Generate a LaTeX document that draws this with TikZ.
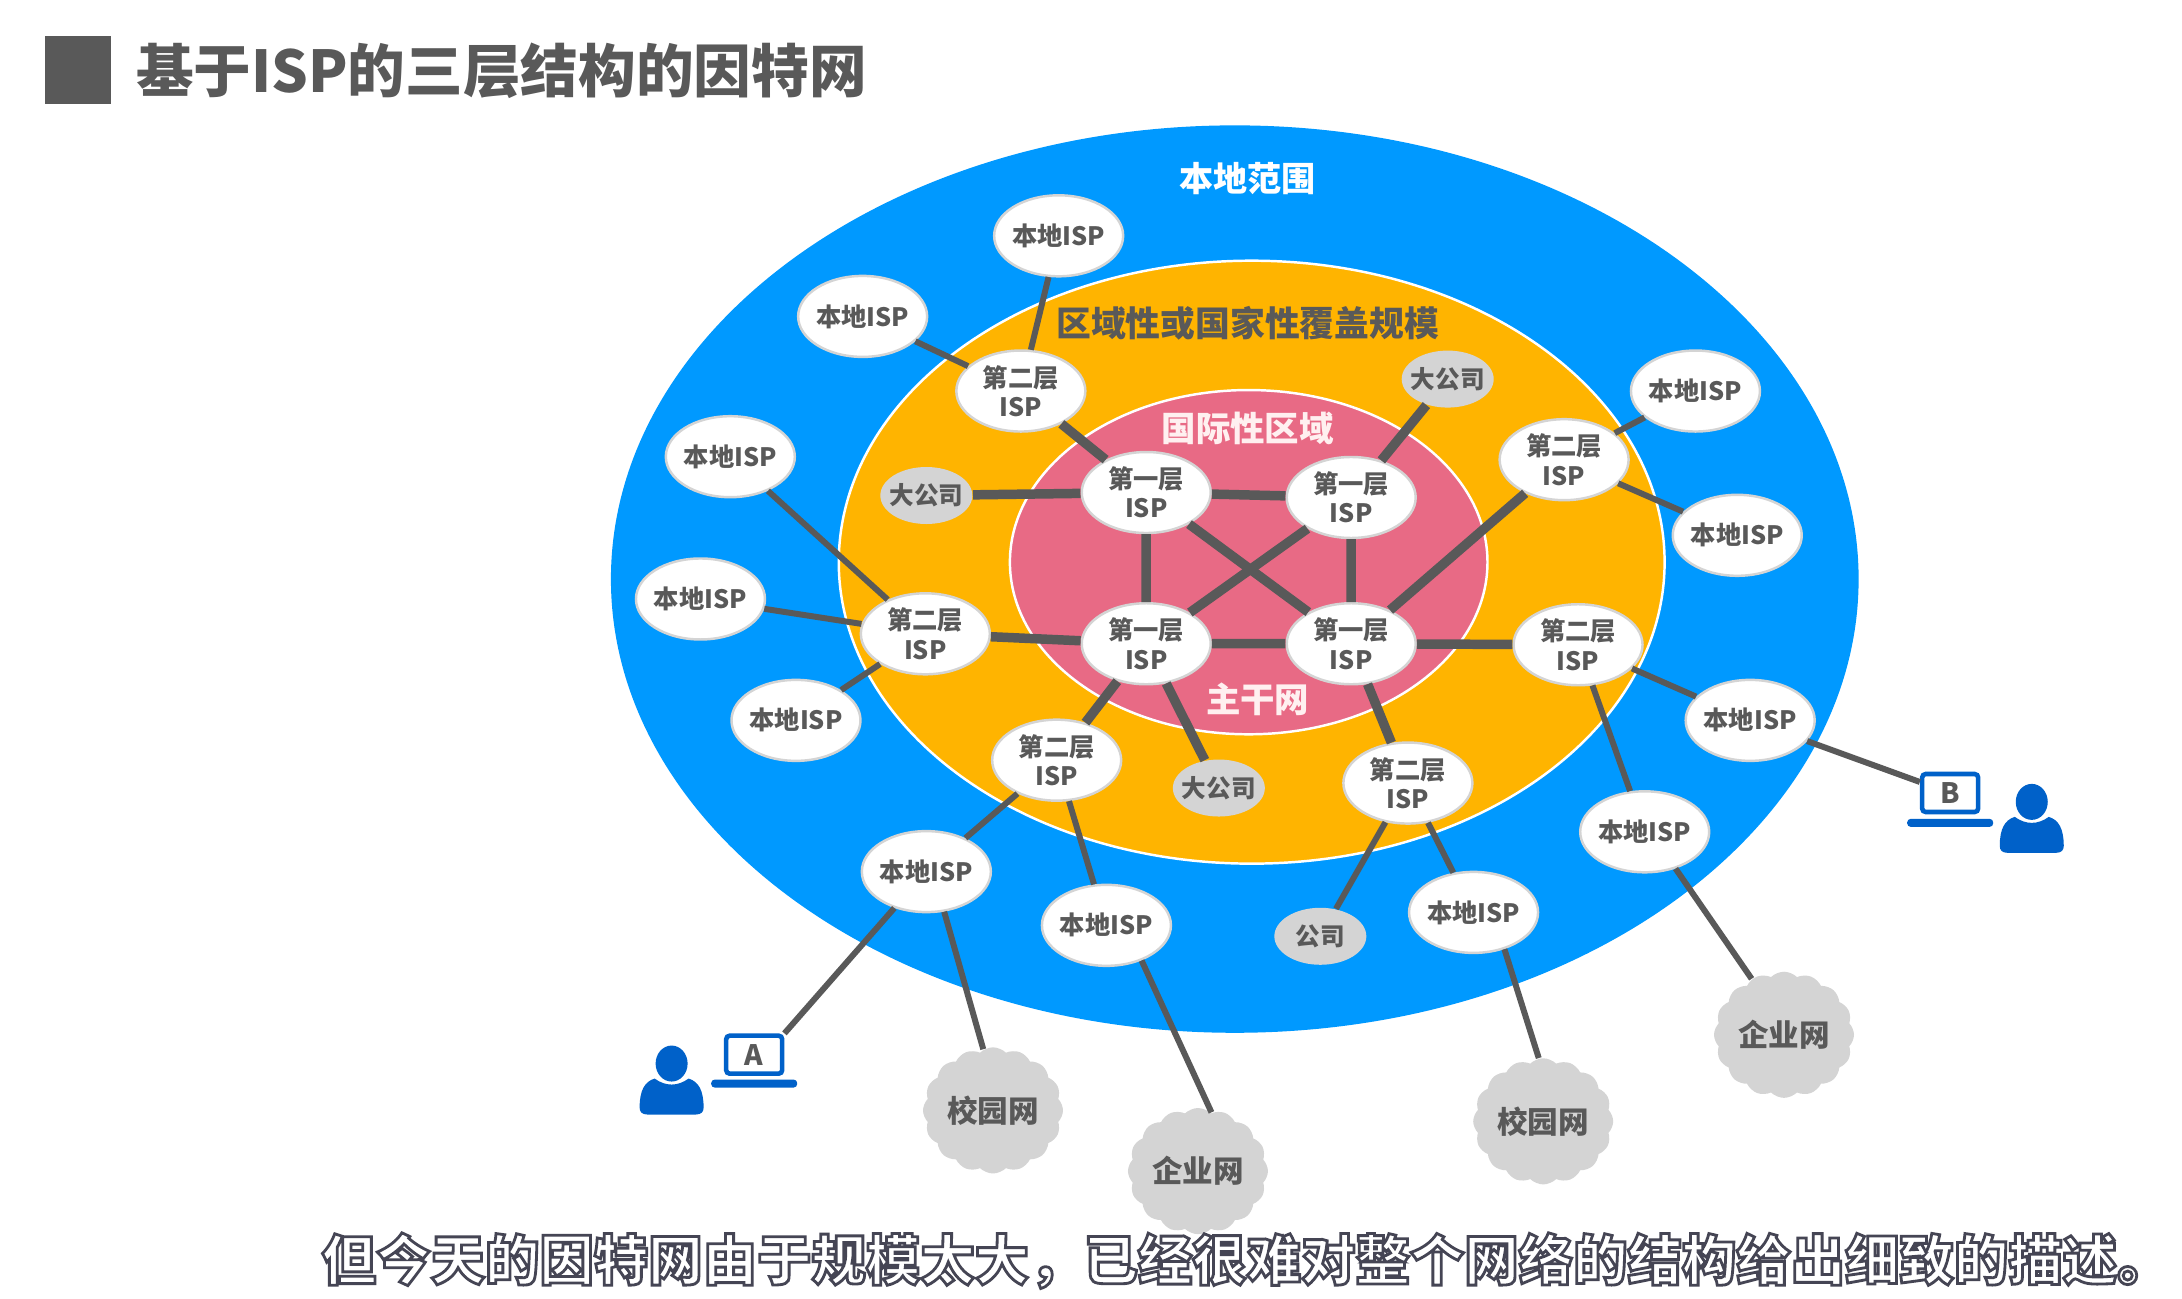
\documentclass[tikz,border=0pt]{standalone}
\usepackage{fontspec}
\setmainfont{Noto Sans CJK SC}
\usetikzlibrary{shapes.geometric,shapes.symbols}
\definecolor{outerblue}{HTML}{0099FF}
\definecolor{midorange}{HTML}{FFB400}
\definecolor{innerred}{HTML}{E86A85}
\definecolor{linkgray}{HTML}{595959}
\definecolor{corpgray}{HTML}{D4D4D4}
\definecolor{iconblue}{HTML}{0061C9}
\definecolor{rimgray}{HTML}{D4D4D4}
\newcommand{\outlinetext}[1]{\special{pdf:code 2 Tr 0.8 w 0.27 0.27 0.33 RG}#1}
\tikzset{
  ispnode/.style={ellipse,draw=rimgray,line width=.7pt,fill=white,text=linkgray,inner sep=0pt,inner xsep=-1pt,
    minimum width=1.29cm,minimum height=.81cm,align=center,font=\fontsize{7.2}{8.3}\selectfont\bfseries},
  corpnode/.style={ellipse,fill=corpgray,text=linkgray,inner sep=0pt,inner xsep=-1.6pt,
    minimum width=.92cm,minimum height=.57cm,font=\fontsize{7}{8}\selectfont\bfseries},
  netcloud/.style={cloud,cloud puffs=16,cloud puff arc=90,aspect=1.1,fill=corpgray,text=linkgray,inner sep=0pt,
    minimum width=1.4cm,minimum height=1.26cm,font=\fontsize{8.7}{9}\selectfont\bfseries},
  thicklink/.style={linkgray,line width=2.7pt},
  thinlink/.style={linkgray,line width=1.7pt},
  scrbox/.style={rectangle,rounded corners=1pt,draw=iconblue,line width=1.3pt,fill=white,text=linkgray,inner sep=0pt,
    minimum width=.56cm,minimum height=.38cm,font=\fontsize{8}{9}\selectfont\bfseries},
  personicon/.pic={
    \fill[iconblue] (-.24,.34) -- (.24,.34) .. controls (.3,.34) and (.32,.31) .. (.32,.27)
      .. controls (.32,.10) and (.27,.01) .. (.17,-.02) .. controls (.06,.06) and (-.06,.06) .. (-.17,-.02)
      .. controls (-.27,.01) and (-.32,.10) .. (-.32,.27) .. controls (-.32,.31) and (-.3,.34) .. (-.24,.34) -- cycle;
    \fill[iconblue] (0,-.17) ellipse (.16 and .18);
  },
  lapbase/.pic={
    \fill[iconblue,rounded corners=1pt] (-.43,0) rectangle (.43,.08);
  }
}
\begin{document}
\begin{tikzpicture}[y=-1cm,scale=.995]
\useasboundingbox (0,0) rectangle (21.93,13.055);
\fill[white] (0,0) rectangle (21.93,13.055);
% heading
\fill[linkgray] (.45,.36) rectangle (1.12,1.05);
\draw (1.36,.71) node[anchor=west,text=linkgray,inner sep=0pt,font=\fontsize{16.4}{17}\selectfont\bfseries] (heading) {基于ISP的三层结构的因特网};
% three regions
\fill[outerblue] (12.41,5.82) ellipse (6.27 and 4.56);
\draw[white,line width=.7pt,fill=midorange] (12.58,5.65) ellipse (4.15 and 3.03);
\draw[white,line width=.7pt,fill=innerred] (12.55,5.65) ellipse (2.40 and 1.73);
\draw (12.54,1.79) node[text=white,font=\fontsize{9.7}{10}\selectfont\bfseries] (regionlocal) {本地范围};
\draw (12.54,3.25) node[text=linkgray,font=\fontsize{9.9}{10}\selectfont\bfseries] (regionnation) {区域性或国家性覆盖规模};
\draw (12.54,4.31) node[text=red!6,font=\fontsize{9.8}{10}\selectfont\bfseries] (regionworld) {国际性区域};
\draw (12.64,7.03) node[text=red!6,font=\fontsize{9.8}{10}\selectfont\bfseries] (backbone) {主干网};
% tier one
\draw (11.52,4.95) node[ispnode] (tia) {第一层\\ISP};
\draw (13.58,5.00) node[ispnode] (tib) {第一层\\ISP};
\draw (11.52,6.47) node[ispnode] (tic) {第一层\\ISP};
\draw (13.58,6.47) node[ispnode] (tid) {第一层\\ISP};
% tier two
\draw (10.26,3.93) node[ispnode] (tiia) {第二层\\ISP};
\draw (15.72,4.62) node[ispnode] (tiib) {第二层\\ISP};
\draw (9.30,6.37) node[ispnode] (tiic) {第二层\\ISP};
\draw (15.86,6.48) node[ispnode] (tiid) {第二层\\ISP};
\draw (10.62,7.64) node[ispnode] (tiie) {第二层\\ISP};
\draw (14.15,7.87) node[ispnode] (tiif) {第二层\\ISP};
% local
\draw (10.64,2.37) node[ispnode] (loca) {本地ISP};
\draw (8.67,3.18) node[ispnode] (locb) {本地ISP};
\draw (7.34,4.59) node[ispnode] (locc) {本地ISP};
\draw (7.04,6.02) node[ispnode] (locd) {本地ISP};
\draw (8.00,7.24) node[ispnode] (loce) {本地ISP};
\draw (17.04,3.93) node[ispnode] (locf) {本地ISP};
\draw (17.46,5.38) node[ispnode] (locg) {本地ISP};
\draw (17.59,7.24) node[ispnode] (loch) {本地ISP};
\draw (16.53,8.36) node[ispnode] (loci) {本地ISP};
\draw (9.31,8.76) node[ispnode] (locj) {本地ISP};
\draw (11.12,9.30) node[ispnode] (lock) {本地ISP};
\draw (14.81,9.17) node[ispnode] (locl) {本地ISP};
% companies
\draw (9.31,4.98) node[corpnode] (corpa) {大公司};
\draw (14.55,3.81) node[corpnode] (corpb) {大公司};
\draw (12.25,7.92) node[corpnode] (corpc) {大公司};
\draw (13.27,9.41) node[corpnode] (corpd) {公司};
% clouds
\draw (9.98,11.16) node[netcloud] (campa) {校园网};
\draw (12.04,11.77) node[netcloud] (enta) {企业网};
\draw (15.51,11.27) node[netcloud] (campb) {校园网};
\draw (17.93,10.40) node[netcloud] (entb) {企业网};
% hosts
\draw (7.58,10.60) node[scrbox] (hosta) {A};
\draw (7.58,10.85) pic {lapbase};
\draw (6.75,10.86) pic {personicon};
\draw (19.60,7.97) node[scrbox] (hostb) {B};
\draw (19.60,8.23) pic {lapbase};
\draw (20.42,8.23) pic {personicon};
% links
\draw[thicklink] (tia) -- (tib);
\draw[thicklink] (tia) -- (tic);
\draw[thicklink] (tib) -- (tid);
\draw[thicklink] (tic) -- (tid);
\draw[thicklink] (tia) -- (tid);
\draw[thicklink] (tib) -- (tic);
\draw[thicklink] (corpa) -- (tia);
\draw[thicklink] (corpb) -- (tib);
\draw[thicklink] (corpc) -- (tic);
\draw[thicklink] (tiia) -- (tia);
\draw[thicklink] (tiib) -- (tid);
\draw[thicklink] (tiic) -- (tic);
\draw[thicklink] (tiid) -- (tid);
\draw[thicklink] (tiie) -- (tic);
\draw[thicklink] (tiif) -- (tid);
\draw[thinlink] (loca) -- (tiia);
\draw[thinlink] (locb) -- (tiia);
\draw[thinlink] (locc) -- (tiic);
\draw[thinlink] (locd) -- (tiic);
\draw[thinlink] (loce) -- (tiic);
\draw[thinlink] (locf) -- (tiib);
\draw[thinlink] (locg) -- (tiib);
\draw[thinlink] (loch) -- (tiid);
\draw[thinlink] (loci) -- (tiid);
\draw[thinlink] (locj) -- (tiie);
\draw[thinlink] (lock) -- (tiie);
\draw[thinlink] (locl) -- (tiif);
\draw[thinlink] (corpd) -- (tiif);
\draw[thinlink] (locj) -- (hosta.north east);
\draw[thinlink] (locj.-66) -- (campa.99);
\draw[thinlink] (lock.-45) -- (enta.77);
\draw[thinlink] (locl.-50) -- (campb.94);
\draw[thinlink] (loci.-50) -- (entb.120);
\draw[thinlink] (loch) -- (hostb);
% caption
\draw (12.53,12.67) node[text=white,inner sep=0pt,font=\fontsize{15.48}{16}\selectfont\bfseries] (caption) {\outlinetext{但今天的因特网由于规模太大\char"FF0C 已经很难对整个网络的结构给出细致的描述。}};
\end{tikzpicture}
\end{document}
